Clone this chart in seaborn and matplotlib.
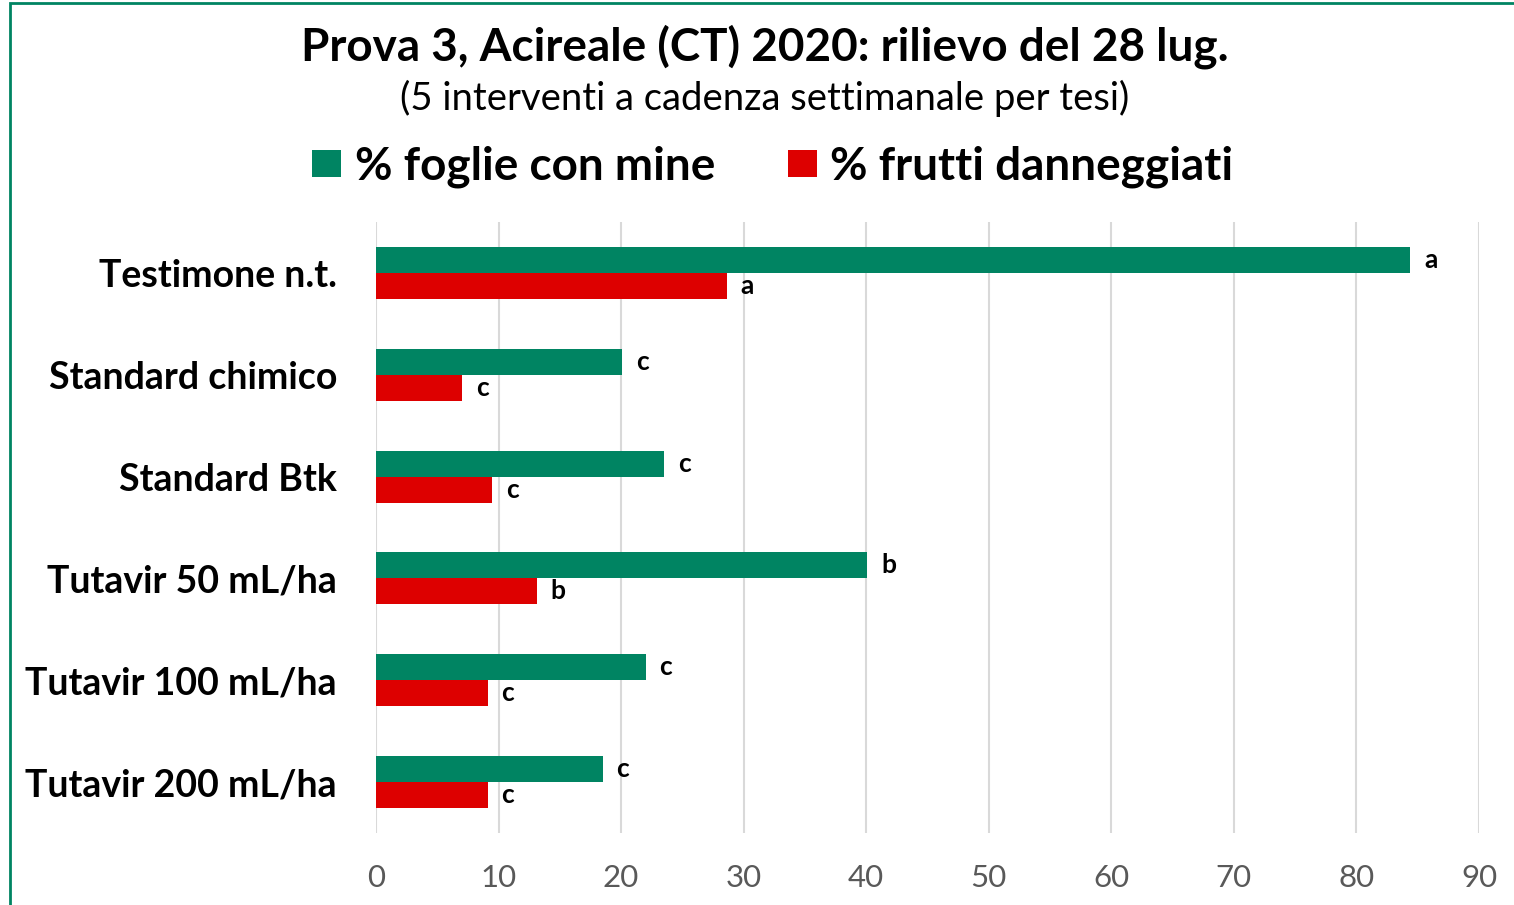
import pandas as pd
import matplotlib.pyplot as plt
import matplotlib.patches as mpatches
import seaborn as sns

# data
tesi = ['Testimone n.t.', 'Standard chimico', 'Standard Btk',
        'Tutavir 50 mL/ha', 'Tutavir 100 mL/ha', 'Tutavir 200 mL/ha']
foglie = [84.4, 20.1, 23.5, 40.1, 22.0, 18.5]
frutti = [28.6, 7.0, 9.5, 13.1, 9.1, 9.1]
lettere_foglie = ['a', 'c', 'c', 'b', 'c', 'c']
lettere_frutti = ['a', 'c', 'c', 'b', 'c', 'c']
serie = ['% foglie con mine', '% frutti danneggiati']
x_ticks = list(range(0, 100, 10))

GREEN = '#008462'
RED = '#DD0000'


def main():
    sns.set_theme(style='white', rc={'text.color': 'black', 'ytick.color': 'black'})
    plt.rcParams['font.family'] = ['Lato', 'DejaVu Sans']

    df = pd.DataFrame({
        'tesi': tesi * 2,
        'valore': foglie + frutti,
        'serie': [serie[0]] * len(tesi) + [serie[1]] * len(tesi),
    })

    fig = plt.figure(figsize=(15.14, 9.05), dpi=100)
    ax = fig.add_axes([376 / 1514, 1 - 833 / 905, (1479 - 376) / 1514, (833 - 222) / 905])

    sns.barplot(data=df, x='valore', y='tesi', hue='serie', hue_order=serie,
                palette=[GREEN, RED], width=0.51, orient='h', ax=ax,
                saturation=1, errorbar=None, linewidth=0)

    for cont, labs in zip(ax.containers, [lettere_foglie, lettere_frutti]):
        ax.bar_label(cont, labels=labs, padding=10, fontsize=19,
                     fontweight='bold', color='black')

    ax.set_xlim(0, 90)
    ax.set_ylim(5.5, -0.5)
    ax.set_xticks(x_ticks)
    ax.set_xlabel('')
    ax.set_ylabel('')
    ax.grid(axis='x', color='#d9d9d9', linewidth=1.5)
    ax.set_axisbelow(True)
    for s in ax.spines.values():
        s.set_visible(False)
    ax.tick_params(axis='x', length=0, pad=22, labelsize=22.5, labelcolor='#595959')
    ax.tick_params(axis='y', length=0, pad=28, labelsize=27, labelcolor='black')
    for t in ax.get_yticklabels():
        t.set_fontweight('bold')

    handles, labels = ax.get_legend_handles_labels()
    ax.legend_.remove()
    fig.legend(handles, labels, loc='center', bbox_to_anchor=(773 / 1514, 1 - 167 / 905),
               ncol=2, frameon=False, prop={'size': 33, 'weight': 'bold'},
               handlelength=0.62, handleheight=0.55, handletextpad=0.3,
               columnspacing=1.6, labelcolor='black')

    fig.text(765 / 1514, 1 - 47 / 905, 'Prova 3, Acireale (CT) 2020: rilievo del 28 lug.',
             ha='center', va='center', fontsize=33, fontweight='bold', color='black')
    fig.text(765 / 1514, 1 - 98 / 905, '(5 interventi a cadenza settimanale per tesi)',
             ha='center', va='center', fontsize=27.5, color='black')

    # green frame of the original chart, cut off on the right and bottom
    fig.patches.append(mpatches.Rectangle((9.5 / 1514, -0.1), 1.2, 1 - 3.5 / 905 + 0.1,
                                          transform=fig.transFigure, fill=False,
                                          edgecolor=GREEN, linewidth=2))

    fig.savefig('out.png', dpi=100)


if __name__ == '__main__':
    main()
